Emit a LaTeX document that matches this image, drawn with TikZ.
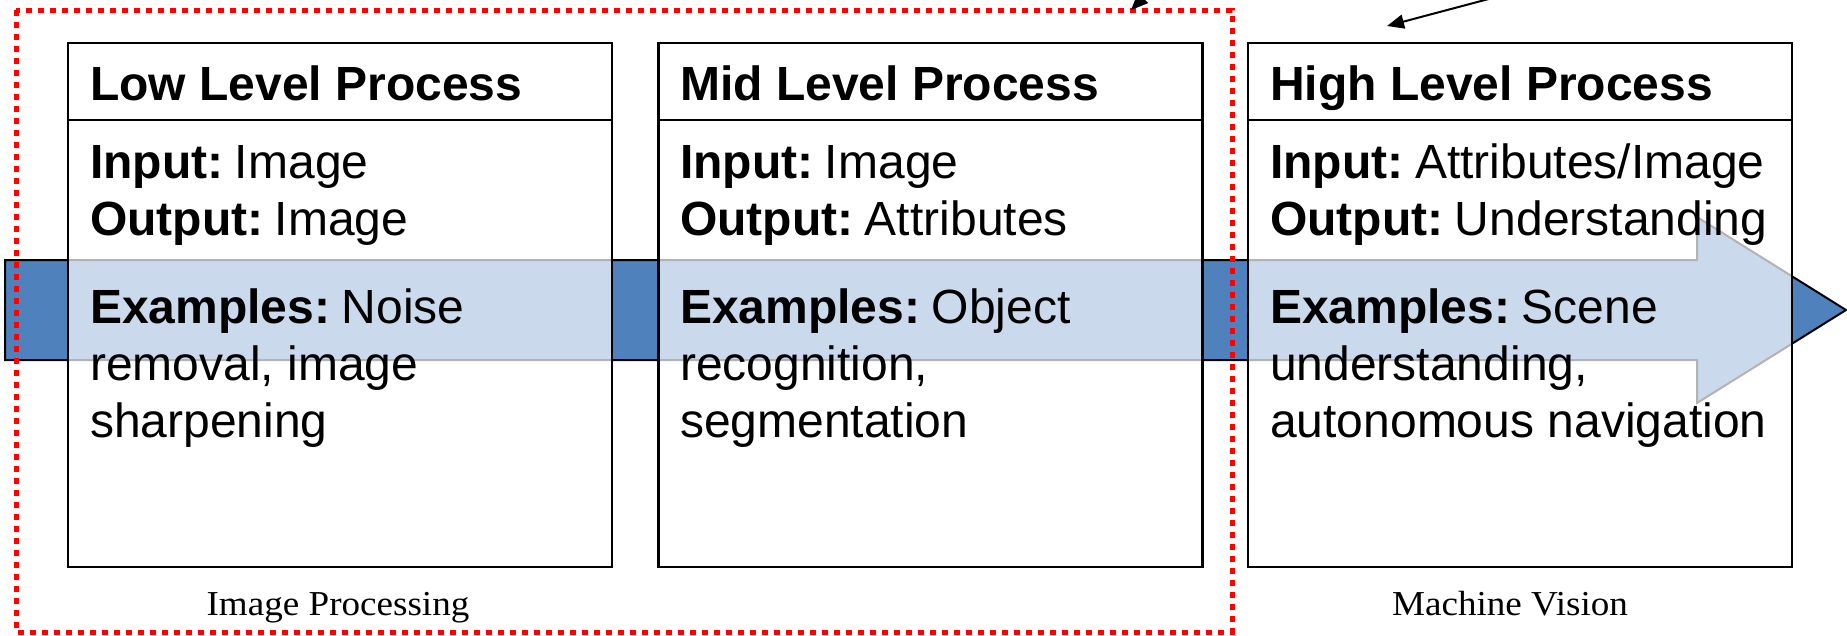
\documentclass[tikz,border=0pt]{standalone}
\usepackage{fontspec}
\setmainfont{Liberation Sans}
\newfontfamily\labelserif[FakeStretch=1.06]{Liberation Serif}
\usetikzlibrary{arrows.meta}
\definecolor{arrowblue}{HTML}{4F81BD}
\definecolor{dotred}{HTML}{FF0000}
\newcommand{\fieldgap}{\hspace{0.24em}}
\begin{document}
\begin{tikzpicture}[x=1pt,y=-1pt,
  bigarrow/.style={fill=arrowblue,draw=black,line width=2pt,line join=miter},
  procbox/.style={draw=black,line width=2.5pt,fill=white,fill opacity=0.7,minimum width=544pt,minimum height=524pt,inner sep=0pt},
  divline/.style={draw=black,line width=2.5pt},
  txt/.style={anchor=base west,inner sep=0pt,font=\fontsize{48}{57}\selectfont},
  headtxt/.style={txt,font=\fontsize{48}{57}\selectfont\bfseries},
  caption/.style={anchor=base,inner sep=0pt,font=\labelserif\fontsize{35}{40}\selectfont},
  region/.style={draw=dotred,line width=5pt,dash pattern=on 6pt off 6pt},
  pointer/.style={draw=black,line width=2pt,-{Triangle[length=17pt,width=14pt]}}
]
\useasboundingbox (0,0) rectangle (1847,635);
\fill[white] (0,0) rectangle (1847,635);
\clip (0,0) rectangle (1847,635);

% big process arrow
\draw[bigarrow] (5,260) -- (1697,260) -- (1697,217) -- (1846,310) -- (1697,403) -- (1697,360) -- (5,360) -- cycle;

% process boxes
\node[procbox] (box1) at (340,305) {};
\node[procbox] (box2) at (930.5,305) {};
\node[procbox] (box3) at (1520,305) {};
\draw[divline] ([yshift=-78pt]box1.north west) -- ([yshift=-78pt]box1.north east);
\draw[divline] ([yshift=-78pt]box2.north west) -- ([yshift=-78pt]box2.north east);
\draw[divline] ([yshift=-78pt]box3.north west) -- ([yshift=-78pt]box3.north east);

% box 1 texts
\node[headtxt] (h1) at (90,100) {Low Level Process};
\node[txt] (b1a) at (90,178) {\textbf{Input:}\fieldgap Image};
\node[txt] (b1b) at (90,235) {\textbf{Output:}\fieldgap Image};
\node[txt] (b1c) at (90,323) {\textbf{Examples:}\fieldgap Noise};
\node[txt] (b1d) at (90,380) {removal, image};
\node[txt] (b1e) at (90,437) {sharpening};

% box 2 texts
\node[headtxt] (h2) at (680,100) {Mid Level Process};
\node[txt] (b2a) at (680,178) {\textbf{Input:}\fieldgap Image};
\node[txt] (b2b) at (680,235) {\textbf{Output:}\fieldgap Attributes};
\node[txt] (b2c) at (680,323) {\textbf{Examples:}\fieldgap Object};
\node[txt] (b2d) at (680,380) {recognition,};
\node[txt] (b2e) at (680,437) {segmentation};

% box 3 texts
\node[headtxt] (h3) at (1270,100) {High Level Process};
\node[txt] (b3a) at (1270,178) {\textbf{Input:}\fieldgap Attributes/Image};
\node[txt] (b3b) at (1270,235) {\textbf{Output:}\fieldgap Understanding};
\node[txt] (b3c) at (1270,323) {\textbf{Examples:}\fieldgap Scene};
\node[txt] (b3d) at (1270,380) {understanding,};
\node[txt] (b3e) at (1270,437) {autonomous navigation};

% captions
\node[caption] (cap1) at (338,615) {Image Processing};
\node[caption] (cap2) at (1510,615) {Machine Vision};

% image processing region
\draw[region] (16,10) rectangle (1232,632);

% pointers from above
\coordinate (p1s) at (1175,-34);
\coordinate (p1e) at (1131,10);
\coordinate (p2s) at (1530,-12);
\coordinate (p2e) at (1387,26);
\draw[pointer] (p1s) -- (p1e);
\draw[pointer] (p2s) -- (p2e);
\end{tikzpicture}
\end{document}
